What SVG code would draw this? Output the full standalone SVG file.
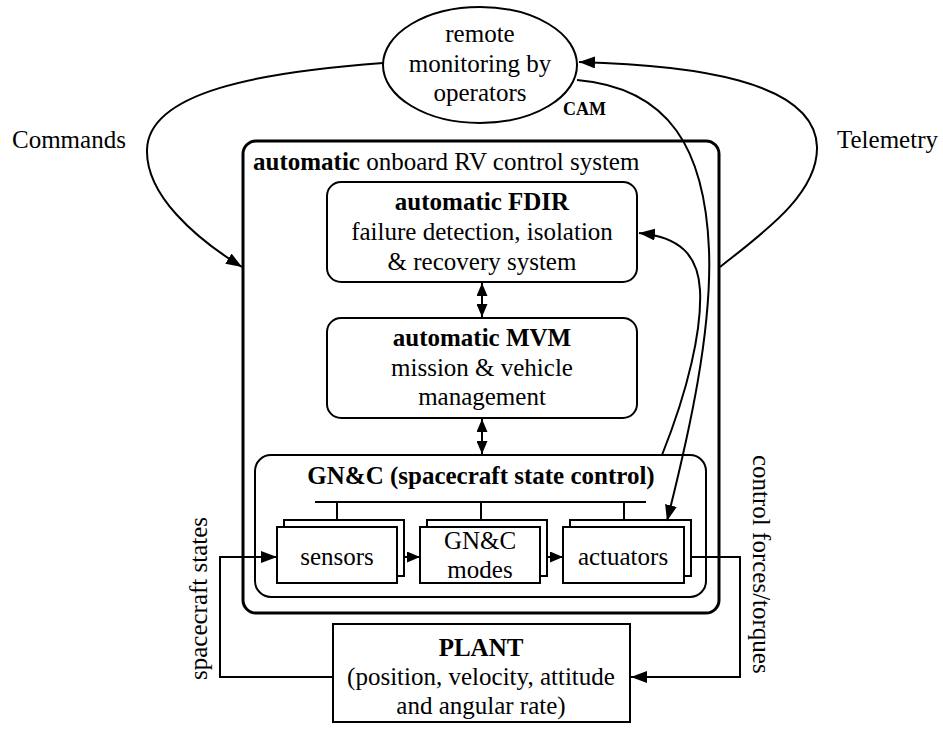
<svg xmlns="http://www.w3.org/2000/svg" width="943" height="731" viewBox="0 0 943 731" font-family="'Liberation Serif', 'Times New Roman', 'DejaVu Serif', serif">
<defs>
<marker id="ah" viewBox="0 0 16 12" refX="16" refY="6" markerWidth="16" markerHeight="12" markerUnits="userSpaceOnUse" orient="auto-start-reverse"><path d="M0,0 L16,6 L0,12 z" fill="#000"/></marker>
<marker id="as" viewBox="0 0 13 11" refX="13" refY="5.5" markerWidth="13" markerHeight="11" markerUnits="userSpaceOnUse" orient="auto-start-reverse"><path d="M0,0 L13,5.5 L0,11 z" fill="#000"/></marker>
</defs>
<style>
text { font-family: 'Liberation Serif', 'Times New Roman', 'DejaVu Serif', serif; font-size: 25px; fill: #000; }
.b { font-weight: bold; }
.c { text-anchor: middle; }
.box { fill: #fff; stroke: #000; stroke-width: 2; }
.outer { fill: #fff; stroke: #000; stroke-width: 3; }
.ln { fill: none; stroke: #000; stroke-width: 2; }
</style>
<rect width="943" height="731" fill="#fff"/>

<g id="remote">
<ellipse cx="480" cy="65" rx="97" ry="58" class="box"/>
<text x="480" y="42" class="c">remote</text>
<text x="480" y="72" class="c">monitoring by</text>
<text x="480" y="101" class="c">operators</text>
</g>

<g id="onboard">
<rect x="243" y="141" width="476" height="472" rx="13" class="outer"/>
<text x="253" y="170"><tspan class="b">automatic</tspan> onboard RV control system</text>
</g>

<g id="fdir">
<rect x="327" y="182" width="310" height="100" rx="14" class="box"/>
<text x="482" y="210" class="c b">automatic FDIR</text>
<text x="482" y="240" class="c">failure detection, isolation</text>
<text x="482" y="270" class="c">&amp; recovery system</text>
</g>

<g id="mvm">
<rect x="327" y="318" width="310" height="100" rx="14" class="box"/>
<text x="482" y="346" class="c b">automatic MVM</text>
<text x="482" y="376" class="c">mission &amp; vehicle</text>
<text x="482" y="405" class="c">management</text>
</g>

<g id="gnc">
<rect x="255" y="455" width="451" height="142" rx="16" class="box"/>
<text x="481" y="484" class="c b">GN&amp;C (spacecraft state control)</text>
<path d="M315,502 H646 M337,502 V520 M481,502 V520 M624,502 V520" class="ln"/>
</g>

<g id="sensors">
<rect x="284" y="520" width="120" height="56" class="box"/>
<rect x="277" y="527" width="120" height="56" class="box"/>
<text x="337" y="565" class="c">sensors</text>
</g>

<g id="modes">
<rect x="427" y="520" width="120" height="56" class="box"/>
<rect x="420" y="527" width="120" height="56" class="box"/>
<text x="480" y="549" class="c">GN&amp;C</text>
<text x="480" y="578" class="c">modes</text>
</g>

<g id="actuators">
<rect x="570" y="520" width="121" height="56" class="box"/>
<rect x="563" y="527" width="121" height="56" class="box"/>
<text x="623" y="565" class="c">actuators</text>
</g>

<g id="plant">
<rect x="333" y="624" width="297" height="98" class="box"/>
<text x="481" y="656" class="c b">PLANT</text>
<text x="481" y="685" class="c">(position, velocity, attitude</text>
<text x="481" y="714" class="c">and angular rate)</text>
</g>

<g id="labels">
<text x="12" y="148">Commands</text>
<text x="837" y="148">Telemetry</text>
<text x="563" y="115" class="b" style="font-size:18px">CAM</text>
<text transform="translate(207,680) rotate(-90)">spacecraft states</text>
<text transform="translate(753,455) rotate(90)">control forces/torques</text>
</g>

<g id="connectors">
<path d="M383,63 C260,72 148,92 147,150 C146,195 195,238 242,267" class="ln" marker-end="url(#ah)"/>
<path d="M720,267 C760,235 818,195 817,147 C815,80 690,65 579,62" class="ln" marker-end="url(#ah)"/>
<path d="M577,80 C670,88 705,150 709,250 C712,330 690,430 667,521" class="ln" marker-end="url(#ah)"/>
<path d="M662,455 C688,390 702,330 700,290 C698,255 680,237 639,233" class="ln" marker-end="url(#ah)"/>
<path d="M482,283 V317" class="ln" marker-start="url(#as)" marker-end="url(#as)"/>
<path d="M482,419 V454" class="ln" marker-start="url(#as)" marker-end="url(#as)"/>
<path d="M404,557 H420" class="ln" marker-end="url(#as)"/>
<path d="M547,557 H563" class="ln" marker-end="url(#as)"/>
<path d="M333,677 H220 V557 H277" class="ln" marker-end="url(#ah)"/>
<path d="M691,557 H740 V677 H631" class="ln" marker-end="url(#ah)"/>
</g>
</svg>
